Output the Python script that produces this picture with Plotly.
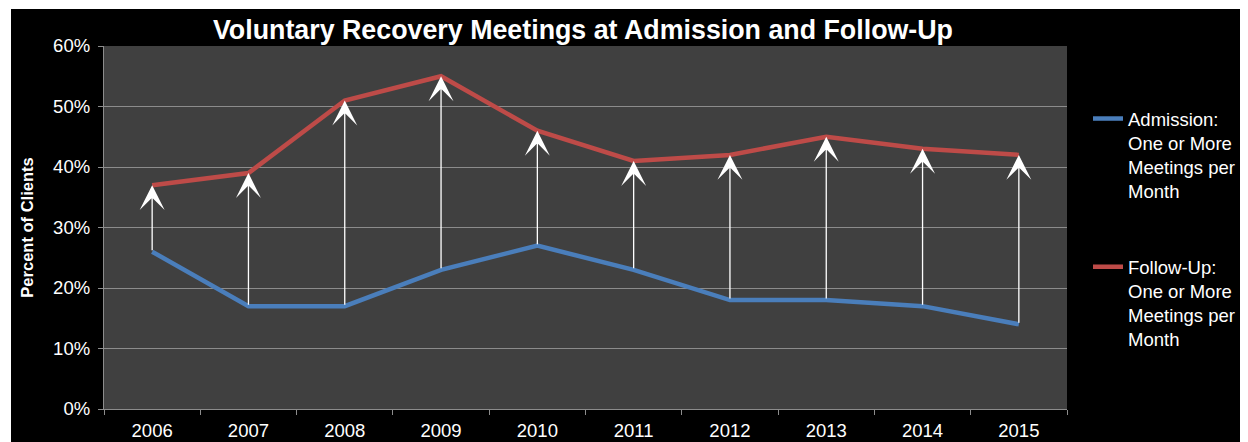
import plotly.graph_objects as go

years = ["2006", "2007", "2008", "2009", "2010", "2011", "2012", "2013", "2014", "2015"]
admission = [0.26, 0.17, 0.17, 0.23, 0.27, 0.23, 0.18, 0.18, 0.17, 0.14]
followup = [0.37, 0.39, 0.51, 0.55, 0.46, 0.41, 0.42, 0.45, 0.43, 0.42]
name_adm = "Admission:<br>One or More<br>Meetings per<br>Month"
name_fu = "Follow-Up:<br>One or More<br>Meetings per<br>Month"
title_text = "Voluntary Recovery Meetings at Admission and Follow-Up"
ytitle = "Percent of Clients"

FONT = "Liberation Sans, Arial, sans-serif"
OFF = 8  # page body margin
W, H = 1248, 442
L, T = 104 - OFF, 46 - OFF
R = W - (1067 - OFF)
B = H - (409 - OFF)
pw, ph = W - L - R, H - T - B

def px_x(p):  # page px -> paper x
    return (p - OFF - L) / pw

def px_y(p):  # page px -> paper y
    return (H - B - (p - OFF)) / ph

fig = go.Figure()
fig.add_trace(go.Scatter(x=years, y=admission, mode="lines", name=name_adm,
                         line=dict(color="#4a7ebb", width=4.5), legendgroup="a"))
fig.add_trace(go.Scatter(x=years, y=followup, mode="lines", name=name_fu,
                         line=dict(color="#be4b48", width=4.5), legendgroup="b"))

for i, (a, f) in enumerate(zip(admission, followup)):
    fig.add_annotation(x=i, y=f, ax=i, ay=a, xref="x", yref="y", axref="x", ayref="y",
                       text="", showarrow=True, arrowhead=3, arrowsize=3.2,
                       arrowwidth=1.3, arrowcolor="white", standoff=0, startstandoff=0)

# white page margin at left and top
fig.add_shape(type="rect", xref="paper", yref="paper",
              x0=px_x(0), x1=px_x(11), y0=px_y(460), y1=px_y(0),
              fillcolor="white", line_width=0, layer="below")
fig.add_shape(type="rect", xref="paper", yref="paper",
              x0=px_x(0), x1=px_x(1300), y0=px_y(9), y1=px_y(0),
              fillcolor="white", line_width=0, layer="below")

fig.update_layout(
    width=W, height=H,
    margin=dict(l=L, r=R, t=T, b=B, autoexpand=False),
    paper_bgcolor="black", plot_bgcolor="#404040",
    font=dict(family=FONT, color="white", size=18.5),
    title=dict(text="<b>" + title_text + "</b>", x=(583 - OFF) / W, xanchor="center",
               y=1 - (30 - OFF) / H, yanchor="middle", font=dict(size=26.8, color="white", family=FONT)),
    xaxis=dict(type="category", showgrid=False, showline=True, linecolor="#8c8c8c", linewidth=1.3,
               ticks="outside", tickson="boundaries", ticklen=5, tickcolor="#8c8c8c",
               ticklabelstandoff=5, automargin=False,
               tickfont=dict(size=18.5, color="white"), range=[-0.5, 9.5]),
    yaxis=dict(range=[0, 0.6], dtick=0.1, tickformat=".0%", showgrid=True, gridcolor="#8c8c8c",
               gridwidth=1.3, showline=True, linecolor="#8c8c8c", linewidth=1.3, zeroline=False,
               ticks="outside", ticklen=5, tickcolor="#8c8c8c", ticklabelstandoff=4,
               automargin=False,
               tickfont=dict(size=18.5, color="white"),
               title=dict(text="<b>" + ytitle + "</b>", font=dict(size=16.5, color="white"), standoff=15)),
    legend=dict(x=px_x(1088), xanchor="left", y=px_y(100), yanchor="top",
                bgcolor="rgba(0,0,0,0)", font=dict(size=18.5, color="white"),
                valign="top", tracegroupgap=49, traceorder="grouped"),
    showlegend=True,
)

fig.write_html("out.html")
